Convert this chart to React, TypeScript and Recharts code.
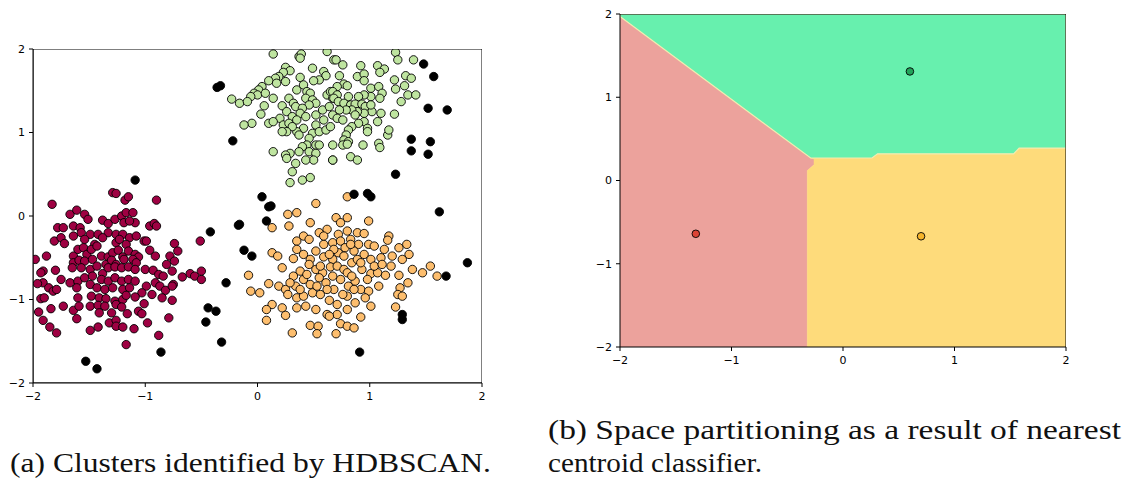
import React from 'react';
import { ScatterChart, Scatter, XAxis, YAxis } from 'recharts';

// (a) HDBSCAN clusters
const clusterGreen: [number, number][] = [
  [0.14, 1.94], [0.37, 1.91], [0.39, 1.94], [0.38, 1.89], [0.62, 1.97], [0.68, 1.87], [0.25, 1.78], [0.29, 1.74],
  [0.23, 1.72], [0.19, 1.67], [0.16, 1.65], [0.1, 1.62], [0.25, 1.61], [0.17, 1.59], [0.38, 1.66], [0.49, 1.77],
  [0.59, 1.73], [0.61, 1.68], [0.55, 1.63], [0.5, 1.62], [0.04, 1.55], [0.01, 1.51], [-0.03, 1.47], [0.0, 1.45],
  [0.07, 1.47], [-0.06, 1.43], [-0.23, 1.4], [-0.16, 1.35], [-0.09, 1.37], [0.14, 1.41], [0.06, 1.32], [0.03, 1.22],
  [-0.05, 1.11], [-0.12, 1.09], [0.1, 1.11], [0.35, 1.51], [0.41, 1.57], [0.44, 1.49], [0.47, 1.47], [0.43, 1.41],
  [0.49, 1.39], [0.52, 1.35], [0.46, 1.33], [0.28, 1.41], [0.32, 1.35], [0.22, 1.32], [0.26, 1.25], [0.34, 1.31],
  [0.4, 1.29], [0.38, 1.23], [0.31, 1.19], [0.2, 1.17], [0.14, 1.13], [0.23, 1.09], [0.28, 1.11], [0.35, 1.15],
  [0.43, 1.19], [0.52, 1.21], [0.58, 1.27], [0.62, 1.45], [0.65, 1.49], [0.67, 1.41], [0.64, 1.31], [0.59, 1.15],
  [0.52, 1.09], [0.41, 1.05], [0.35, 1.01], [0.31, 1.07], [0.26, 1.01], [0.22, 1.01], [0.37, 0.97], [0.49, 0.99],
  [0.55, 1.01], [0.61, 1.03], [0.65, 1.07], [0.46, 0.93], [0.44, 0.85], [0.52, 0.85], [0.4, 0.83], [0.37, 0.77],
  [0.29, 0.75], [0.25, 0.73], [0.14, 0.77], [0.26, 0.69], [0.34, 0.63], [0.46, 0.77], [0.52, 0.75], [0.55, 0.85],
  [0.5, 0.67], [0.43, 0.67], [0.31, 0.53], [0.29, 0.4], [0.4, 0.43], [0.47, 0.46], [0.67, 0.67],
  [1.23, 1.96], [1.25, 1.87], [1.39, 1.87], [0.7, 1.87], [0.76, 1.81], [0.92, 1.8], [1.07, 1.8], [1.13, 1.76],
  [1.09, 1.72], [0.89, 1.67], [0.95, 1.7], [0.73, 1.68], [0.95, 1.62], [1.22, 1.63], [1.32, 1.68], [1.37, 1.65],
  [1.23, 1.52], [1.31, 1.56], [1.34, 1.45], [1.41, 1.45], [1.28, 1.37], [1.22, 1.22], [1.1, 1.23], [1.02, 1.25],
  [1.01, 1.53], [1.08, 1.55], [1.11, 1.47], [1.09, 1.41], [1.01, 1.43], [0.95, 1.45], [0.9, 1.43], [0.81, 1.43],
  [0.77, 1.58], [0.8, 1.56], [0.71, 1.55], [0.67, 1.49], [0.71, 1.45], [0.68, 1.41], [0.72, 1.37], [0.77, 1.35],
  [0.83, 1.33], [0.87, 1.34], [0.93, 1.34], [0.96, 1.31], [1.01, 1.33], [0.95, 1.23], [0.89, 1.25], [0.84, 1.27],
  [0.79, 1.27], [0.73, 1.27], [0.67, 1.21], [0.71, 1.17], [0.76, 1.15], [0.87, 1.21], [0.95, 1.13], [0.9, 1.11],
  [0.84, 1.07], [0.81, 1.03], [0.79, 0.97], [0.77, 0.91], [0.81, 0.89], [0.76, 0.85], [0.8, 0.86], [0.98, 1.05],
  [0.98, 1.01], [1.07, 1.13], [1.16, 0.97], [1.17, 1.03], [1.08, 0.87], [1.09, 0.82], [0.94, 0.85], [0.83, 0.71],
  [0.89, 0.67], [0.67, 0.85], [0.67, 0.67],
];

const clusterMaroon: [number, number][] = [
  [-1.29, 0.28], [-1.26, 0.27], [-1.18, 0.19], [-1.15, 0.23], [-0.9, 0.19], [-1.83, 0.14], [-1.67, 0.02], [-1.61, 0.07],
  [-1.54, 0.02], [-1.51, -0.04], [-1.38, -0.05], [-1.33, -0.09], [-1.27, -0.04], [-1.21, 0.0], [-1.17, 0.04], [-1.11, 0.04],
  [-1.09, -0.08], [-1.19, -0.08], [-1.14, -0.06], [-0.96, -0.12], [-0.92, -0.09], [-0.9, -0.12], [-1.78, -0.14], [-1.73, -0.14],
  [-1.64, -0.12], [-1.58, -0.14], [-1.81, -0.3], [-1.75, -0.26], [-1.72, -0.33], [-1.64, -0.24], [-1.57, -0.2], [-1.49, -0.22],
  [-1.42, -0.22], [-1.33, -0.2], [-1.26, -0.22], [-1.2, -0.22], [-1.14, -0.26], [-1.08, -0.24], [-1.01, -0.3], [-0.99, -0.3],
  [-0.74, -0.33], [-0.51, -0.3], [-1.54, -0.28], [-1.45, -0.34], [-1.38, -0.26], [-1.26, -0.32], [-1.17, -0.34], [-1.23, -0.28],
  [-1.64, -0.48], [-1.6, -0.4], [-1.55, -0.38], [-1.52, -0.46], [-1.48, -0.4], [-1.43, -0.36], [-1.39, -0.48], [-1.33, -0.49],
  [-1.29, -0.44], [-1.24, -0.41], [-1.2, -0.49], [-1.15, -0.42], [-1.09, -0.46], [-1.06, -0.49], [-0.96, -0.41], [-0.91, -0.48],
  [-0.78, -0.48], [-0.71, -0.42], [-0.74, -0.54], [-0.81, -0.58], [-1.98, -0.52], [-1.88, -0.48], [-1.64, -0.56], [-1.59, -0.53],
  [-1.54, -0.54], [-1.47, -0.52], [-1.35, -0.58], [-1.3, -0.53], [-1.26, -0.58], [-1.19, -0.52], [-1.11, -0.52], [-1.08, -0.56],
  [-1.91, -0.66], [-1.93, -0.68], [-1.8, -0.65], [-1.65, -0.62], [-1.57, -0.62], [-1.49, -0.64], [-1.43, -0.6], [-1.38, -0.69],
  [-1.33, -0.62], [-1.27, -0.61], [-1.21, -0.62], [-1.15, -0.61], [-1.09, -0.64], [-1.0, -0.64], [-0.93, -0.65], [-0.88, -0.7],
  [-0.84, -0.72], [-0.76, -0.66], [-0.67, -0.73], [-0.6, -0.69], [-0.56, -0.72], [-0.5, -0.76], [-0.5, -0.66], [-1.75, -0.76],
  [-1.67, -0.8], [-1.6, -0.78], [-1.54, -0.74], [-1.47, -0.72], [-1.39, -0.76], [-1.33, -0.78], [-1.27, -0.74], [-1.21, -0.78],
  [-1.15, -0.76], [-1.09, -0.78], [-0.99, -0.84], [-0.91, -0.8], [-0.87, -0.84], [-0.75, -0.82], [-1.91, -0.8], [-1.96, -0.81],
  [-1.86, -0.86], [-1.82, -0.9], [-1.79, -0.88], [-1.61, -0.86], [-1.49, -0.82], [-1.43, -0.86], [-1.36, -0.88], [-1.29, -0.86],
  [-1.2, -0.88], [-1.14, -0.86], [-1.03, -0.92], [-0.94, -0.94], [-0.82, -0.89], [-0.76, -0.84], [-1.93, -0.99], [-1.9, -0.98],
  [-1.73, -1.08], [-1.6, -0.98], [-1.48, -0.96], [-1.41, -0.98], [-1.35, -0.99], [-1.27, -1.02], [-1.2, -1.0], [-1.17, -0.95],
  [-1.09, -0.97], [-1.01, -1.05], [-0.85, -0.98], [-0.76, -1.01], [-1.95, -1.15], [-1.84, -1.11], [-1.64, -1.13], [-1.59, -1.08],
  [-1.49, -1.08], [-1.42, -1.07], [-1.36, -1.08], [-1.26, -1.06], [-1.21, -1.09], [-1.41, -1.16], [-1.3, -1.16], [-1.16, -1.17],
  [-1.06, -1.14], [-1.03, -1.17], [-1.61, -1.23], [-1.91, -1.25], [-1.85, -1.33], [-1.79, -1.4], [-1.49, -1.37], [-1.42, -1.33],
  [-1.32, -1.28], [-1.26, -1.25], [-1.26, -1.32], [-1.2, -1.33], [-1.1, -1.35], [-0.98, -1.28], [-0.79, -1.22], [-0.88, -1.43],
  [-1.17, -1.54],
];

const clusterOrange: [number, number][] = [
  [0.8, 0.23], [0.52, 0.15], [0.27, 0.02], [0.35, 0.04], [0.28, -0.12], [0.13, -0.14], [0.47, -0.08], [0.7, -0.02],
  [0.74, -0.08], [0.8, -0.02], [0.99, -0.06], [0.55, -0.2], [0.62, -0.16], [0.72, -0.22], [0.8, -0.18], [0.89, -0.2],
  [0.95, -0.21], [0.41, -0.24], [0.46, -0.28], [0.35, -0.3], [1.17, -0.24], [1.16, -0.29], [0.59, -0.34], [0.67, -0.32],
  [0.74, -0.3], [0.83, -0.28], [0.9, -0.34], [0.99, -0.34], [1.04, -0.36], [1.13, -0.4], [1.2, -0.48], [1.26, -0.38],
  [1.33, -0.34], [1.29, -0.52], [1.35, -0.46], [0.35, -0.4], [0.13, -0.44], [0.18, -0.48], [0.32, -0.51], [0.41, -0.46],
  [0.47, -0.52], [0.52, -0.42], [0.59, -0.49], [0.67, -0.52], [0.72, -0.44], [0.78, -0.38], [0.86, -0.42], [0.95, -0.46],
  [1.01, -0.52], [1.1, -0.5], [0.22, -0.62], [0.32, -0.72], [0.38, -0.66], [0.46, -0.58], [0.52, -0.64], [0.58, -0.68],
  [0.65, -0.61], [0.71, -0.6], [0.77, -0.64], [0.84, -0.56], [0.89, -0.52], [0.93, -0.64], [1.01, -0.69], [1.07, -0.68],
  [1.14, -0.71], [1.19, -0.6], [1.26, -0.71], [1.34, -0.8], [1.38, -0.64], [1.47, -0.68], [1.54, -0.6], [1.6, -0.72],
  [-0.08, -0.71], [0.1, -0.81], [0.19, -0.84], [0.25, -0.88], [0.34, -0.84], [0.41, -0.76], [0.47, -0.82], [0.55, -0.74],
  [0.61, -0.8], [0.68, -0.88], [0.74, -0.76], [0.81, -0.84], [0.87, -0.78], [0.92, -0.88], [0.99, -0.9], [1.08, -0.84],
  [1.27, -0.86], [-0.06, -0.9], [0.02, -0.92], [0.13, -1.06], [0.22, -1.1], [0.27, -0.94], [0.35, -0.98], [0.41, -0.96],
  [0.49, -0.92], [0.56, -0.94], [0.64, -1.01], [0.71, -1.06], [0.8, -0.96], [0.87, -1.04], [0.96, -0.98], [1.25, -0.94],
  [1.29, -0.96], [1.23, -1.09], [0.08, -1.12], [0.08, -1.25], [0.25, -1.19], [0.35, -1.1], [0.43, -1.08], [0.52, -1.12],
  [0.62, -1.18], [0.71, -1.18], [0.8, -1.12], [0.92, -1.21], [1.01, -1.08], [0.31, -1.4], [0.47, -1.31], [0.54, -1.32],
  [0.53, -1.41], [0.7, -1.41], [0.74, -1.29], [0.8, -1.32], [0.86, -1.34], [0.64, -1.2], [0.68, -0.4], [0.64, -0.46],
  [0.77, -0.48], [0.56, -0.6], [0.8, -0.68], [0.67, -0.72], [0.44, -0.7], [0.98, -0.76], [0.84, -0.72], [0.62, -0.88],
  [0.86, -0.88], [0.53, -0.84], [0.76, -0.94], [0.38, -0.88], [0.29, -0.8], [1.04, -0.6], [1.11, -0.58], [0.92, -0.56],
  [0.59, -0.24], [0.83, -0.34],
];

const noisePoints: [number, number][] = [
  [-0.36, 1.54], [-0.33, 1.56], [-0.22, 0.9], [1.48, 1.82], [1.57, 1.67], [1.52, 1.29], [1.69, 1.27], [1.37, 0.92],
  [1.54, 0.89], [1.37, 0.78], [1.52, 0.74], [1.23, 0.5], [-1.09, 0.43], [-0.42, -0.19], [-0.44, -1.1], [-0.37, -1.14],
  [-0.46, -1.27], [-0.86, -1.63], [-1.53, -1.74], [-1.43, -1.83], [-0.32, -1.51], [0.04, 0.23], [0.1, 0.11], [0.12, 0.12],
  [-0.17, -0.11], [-0.16, -0.1], [0.08, -0.06], [-0.12, -0.41], [-0.05, -0.48], [-0.28, -0.8], [0.86, 0.26], [0.98, 0.27],
  [1.01, 0.23], [1.62, 0.05], [1.87, -0.56], [1.68, -0.72], [1.29, -1.18], [1.29, -1.24], [0.91, -1.63],
];

// (b) nearest centroid regions (polygon corners) and centroids
const regionRed: [number, number][] = [
  [-2, -2], [-2, 1.97], [-0.29, 0.27], [-0.26, 0.26], [-0.26, 0.19], [-0.32, 0.12], [-0.32, -2],
];
const regionGreen: [number, number][] = [
  [-2, 2], [-2, 1.97], [-0.29, 0.27], [0.26, 0.27], [0.31, 0.32], [1.53, 0.32], [1.58, 0.39], [2, 0.39], [2, 2],
];
const regionYellow: [number, number][] = [
  [-0.32, -2], [-0.32, 0.12], [-0.26, 0.19], [-0.26, 0.26], [-0.29, 0.27], [0.26, 0.27], [0.31, 0.32], [1.53, 0.32],
  [1.58, 0.39], [2, 0.39], [2, -2],
];
const centroidRed = [[-1.32, -0.64]];
const centroidGreen = [[0.6, 1.31]];
const centroidYellow = [[0.7, -0.67]];

const axisTicks = [-2, -1, 0, 1, 2];
const frame: [number, number][] = [[-2, -2], [-2, 2], [2, 2], [2, -2]];

const toXY = (arr: number[][]) => arr.map(([x, y]) => ({ x, y }));

const tickStyle = { fill: '#000', fontSize: 11, fontFamily: 'DejaVu Sans' };
const fmt = (v: number) => String(v).replace('-', '\u2212');

const dot = (color: string, r: number, edge = '#000') => (p: any) => (
  <circle cx={p.cx} cy={p.cy} r={r} fill={color} stroke={edge} strokeWidth={0.9} />
);
const noShape = () => <g />;

// draws the series points as one closed polygon
const polygon = (fill: string, stroke = 'none', strokeWidth = 1) => (props: any) => {
  const pts = props.points || [];
  const d = pts.map((p: any, i: number) => `${i ? 'L' : 'M'}${p.x},${p.y}`).join(' ') + ' Z';
  return <path d={d} fill={fill} stroke={stroke} strokeWidth={strokeWidth} />;
};

const Axes = () => (
  <>
    <XAxis
      type="number"
      dataKey="x"
      domain={[-2, 2]}
      ticks={axisTicks}
      interval={0}
      tickFormatter={fmt}
      tick={tickStyle}
      tickSize={4}
      tickMargin={5}
      height={25}
      stroke="#000"
      allowDataOverflow
    />
    <YAxis
      type="number"
      dataKey="y"
      domain={[-2, 2]}
      ticks={axisTicks}
      interval={0}
      tickFormatter={fmt}
      tick={tickStyle}
      tickSize={4}
      tickMargin={4}
      stroke="#000"
      allowDataOverflow
    />
  </>
);

const App = () => {
  return (
    <div style={{ position: 'fixed', left: 0, top: 0, width: 1130, height: 479, background: '#fff' }}>
      <div style={{ position: 'absolute', left: 0, top: 0 }}>
        <ScatterChart width={500} height={410} margin={{ top: 49, right: 18, bottom: 2, left: 0 }}>
          <XAxis type="number" dataKey="x" domain={[-2, 2]} ticks={axisTicks} interval={0} tickFormatter={fmt}
            tick={tickStyle} tickSize={4} tickMargin={5} height={25} stroke="#000" allowDataOverflow />
          <YAxis type="number" dataKey="y" domain={[-2, 2]} ticks={axisTicks} interval={0} tickFormatter={fmt}
            tick={tickStyle} tickSize={4} tickMargin={4} width={33} stroke="#000" allowDataOverflow />
          <Scatter data={toXY(clusterGreen)} shape={dot('#bfe5a0', 4.2)} isAnimationActive={false} />
          <Scatter data={toXY(clusterOrange)} shape={dot('#fdbe6e', 4.2)} isAnimationActive={false} />
          <Scatter data={toXY(clusterMaroon)} shape={dot('#9e0142', 4.2)} isAnimationActive={false} />
          <Scatter data={toXY(noisePoints)} shape={dot('#000', 4.2)} isAnimationActive={false} />
          <Scatter data={toXY(frame)} shape={noShape} line={polygon('none', '#000', 1)} isAnimationActive={false} />
        </ScatterChart>
      </div>
      <div style={{ position: 'absolute', left: 580, top: 0 }}>
        <ScatterChart width={500} height={375} margin={{ top: 14, right: 14, bottom: 3, left: 0 }}>
          <XAxis type="number" dataKey="x" domain={[-2, 2]} ticks={axisTicks} interval={0} tickFormatter={fmt}
            tick={tickStyle} tickSize={4} tickMargin={5} height={25} stroke="#000" allowDataOverflow />
          <YAxis type="number" dataKey="y" domain={[-2, 2]} ticks={axisTicks} interval={0} tickFormatter={fmt}
            tick={tickStyle} tickSize={4} tickMargin={4} width={40} stroke="#000" allowDataOverflow />
          <Scatter data={toXY(regionRed)} shape={noShape} line={polygon('#eca29c', '#eca29c', 0.5)} isAnimationActive={false} />
          <Scatter data={toXY(regionYellow)} shape={noShape} line={polygon('#fedb7b', '#fedb7b', 0.5)} isAnimationActive={false} />
          <Scatter data={toXY(regionGreen)} shape={noShape} line={polygon('#67f0ae', '#f2ebb0', 1.2)} isAnimationActive={false} />
          <Scatter data={toXY(centroidRed)} shape={dot('#dc4436', 3.8)} isAnimationActive={false} />
          <Scatter data={toXY(centroidGreen)} shape={dot('#22a35a', 3.8)} isAnimationActive={false} />
          <Scatter data={toXY(centroidYellow)} shape={dot('#f6b42b', 3.8)} isAnimationActive={false} />
          <Scatter data={toXY(frame)} shape={noShape} line={polygon('none', '#000', 1)} isAnimationActive={false} />
        </ScatterChart>
      </div>
      <svg width={1130} height={479} style={{ position: 'absolute', left: 0, top: 0, pointerEvents: 'none' }}
        fontFamily="'Liberation Serif', serif" fontSize={27} fill="#111">
        <text x={10} y={472} textLength={481} lengthAdjust="spacingAndGlyphs">(a) Clusters identified by HDBSCAN.</text>
        <text x={548} y={439} textLength={573} lengthAdjust="spacingAndGlyphs">(b) Space partitioning as a result of nearest</text>
        <text x={548} y={472} textLength={214} lengthAdjust="spacingAndGlyphs">centroid classifier.</text>
      </svg>
    </div>
  );
};

export default App;
